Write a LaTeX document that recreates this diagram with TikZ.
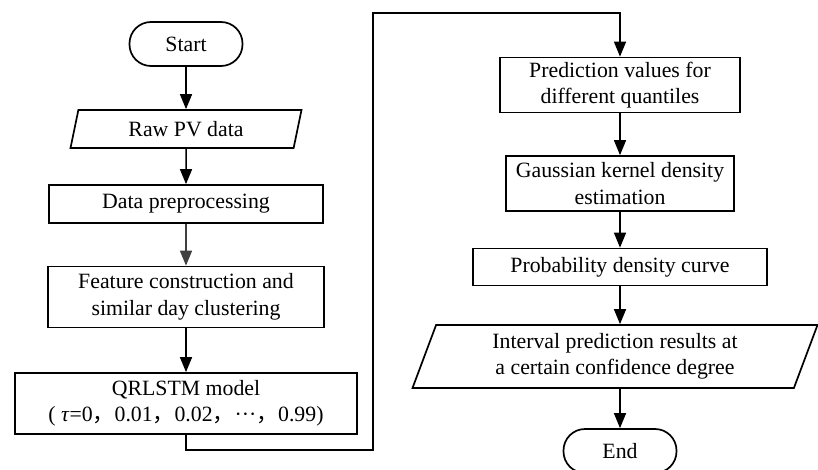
\documentclass[tikz,border=0pt]{standalone}
\usepackage{fontspec}
\setmainfont{Liberation Serif}
\newfontfamily\cjk{Noto Sans CJK SC}
\usetikzlibrary{arrows.meta}
\usetikzlibrary{shapes.geometric}
\tikzset{procbox/.style={draw,line width=1.7pt,rectangle,inner sep=0pt,align=center}}
\tikzset{termbox/.style={draw,line width=1.7pt,rectangle,rounded corners=21.5pt,inner sep=0pt,minimum width=113pt,minimum height=44pt}}
\tikzset{databox/.style={draw,line width=1.7pt,trapezium,trapezium left angle=63,trapezium right angle=117,trapezium stretches body,inner sep=0pt,align=center}}
\tikzset{flowline/.style={line width=1.5pt,-{Triangle[width=12pt,length=15pt]}}}

\begin{document}
\begin{tikzpicture}[x=1pt,y=-1pt,font=\fontsize{21.8}{26.5}\selectfont]
      \useasboundingbox (0,0) rectangle (818,470);
      \pgfmathsetmacro{\colL}{186}
      \pgfmathsetmacro{\colR}{620}

      \node[termbox] at (\colL,44) (start) {Start};
      \node[databox,minimum width=231pt,minimum height=38pt] at (\colL,129) (raw) {Raw PV data};
      \node[procbox,minimum width=274pt,minimum height=38pt] at (\colL,204) (prep) {Data preprocessing};
      \node[procbox,minimum width=276pt,minimum height=61pt] at (\colL,297) (feat) {Feature construction and\\similar day clustering};
      \node[procbox,minimum width=342pt,minimum height=61pt] at (\colL,403.5) (qr) {QRLSTM model\\( \textit{τ}=0{\cjk ，}0.01{\cjk ，}0.02{\cjk ，}···{\cjk ，}0.99)};

      \node[procbox,minimum width=240pt,minimum height=55pt] at (\colR,85) (pred) {Prediction values for\\different quantiles};
      \node[procbox,minimum width=228pt,minimum height=55pt] at (\colR,183.5) (gauss) {Gaussian kernel density\\estimation};
      \node[procbox,minimum width=294pt,minimum height=37pt] at (\colR,267) (prob) {Probability density curve};
      \node[databox,minimum width=405pt,minimum height=63pt] at (615,356.5) (inter) {Interval prediction results at\\a certain confidence degree};
      \node[termbox] at (\colR,451) (fin) {End};

      \coordinate (bendA) at (373,450);
      \coordinate (bendB) at (373,13);

      \draw[flowline] (start) -- (raw);
      \draw[flowline] (raw) -- (prep);
      \draw[flowline,black!75] (prep) -- (feat);
      \draw[flowline] (feat) -- (qr);
      \draw[flowline] (qr.south) |- (bendA) -- (bendB) -| (pred.north);
      \draw[flowline] (pred) -- (gauss);
      \draw[flowline] (gauss) -- (prob);
      \draw[flowline] (prob.south) -- (prob.south |- inter.north);
      \draw[flowline] (inter.south -| fin.north) -- (fin.north);
\end{tikzpicture}
\end{document}
